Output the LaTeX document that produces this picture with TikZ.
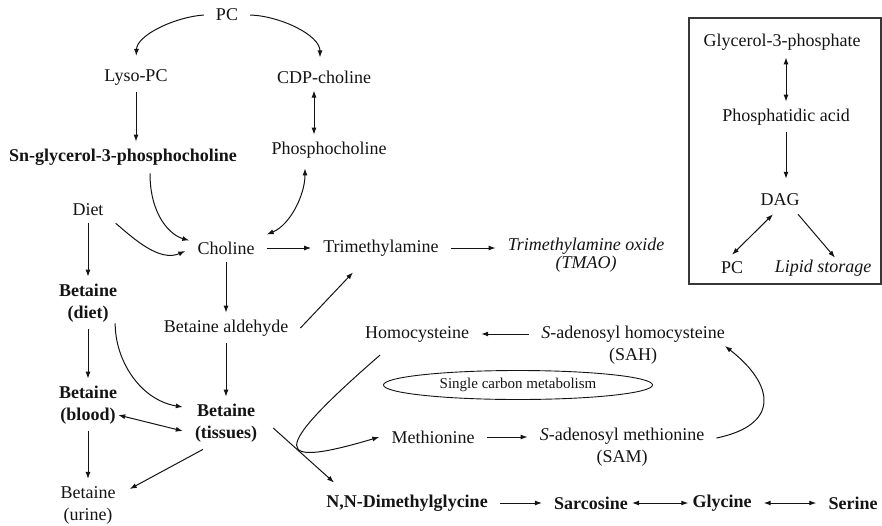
\documentclass[tikz,border=0pt]{standalone}
\usepackage{fontspec}
\setmainfont{Liberation Serif}
\usetikzlibrary{arrows.meta,shapes.geometric}
\definecolor{PwInk}{RGB}{20,20,20}
\definecolor{PwFrame}{RGB}{55,55,55}
\tikzset{
  pw/txt/.style={
    text=PwInk,
    align=center,
    inner xsep=12pt,
    inner ysep=7pt,
    font=\fontsize{18}{22}\selectfont
  },
  pw/bold/.style={pw/txt, font=\fontsize{18}{22}\selectfont\bfseries},
  pw/ital/.style={pw/txt, font=\fontsize{18}{22}\selectfont\itshape},
  pw/oval/.style={
    ellipse,
    draw=PwInk,
    line width=0.9pt,
    text=PwInk,
    inner sep=0pt,
    minimum width=269pt,
    minimum height=29pt,
    font=\fontsize{15}{18}\selectfont
  },
  pw/arrow/.style={-{Latex[length=7pt,width=5pt]}, line width=1pt, draw=PwInk},
  pw/dblarrow/.style={{Latex[length=7pt,width=5pt]}-{Latex[length=7pt,width=5pt]}, line width=1pt, draw=PwInk},
  pw/frame/.style={draw=PwFrame, line width=1.2pt}
}

\begin{document}
\begin{tikzpicture}[x=1pt,y=-1pt]
  \useasboundingbox (0,0) rectangle (882,525);
  \foreach \id/\txt/\x/\y in {
    pc/PC/227/15,lyso/Lyso-PC/136/77,cdp/CDP-choline/324/77,
    phos/Phosphocholine/329/150,diet/Diet/88/210,chol/Choline/226/248,
    tma/Trimethylamine/381/248,bald/Betaine aldehyde/226/328,
    burine/{Betaine\\(urine)}/88/505,homo/Homocysteine/417/334,
    meth/Methionine/433/437,
    sah/{\textit{S}-adenosyl homocysteine\\(SAH)}/633/345,
    sam/{\textit{S}-adenosyl methionine\\(SAM)}/622/447,
    g3p/Glycerol-3-phosphate/782/42,pa/Phosphatidic acid/786/117,
    dag/DAG/780/200,pcb/PC/732/268}
  {\node[pw/txt] (\id) at (\x,\y) {\txt};}
  \foreach \id/\txt/\x/\y in {
    sn/Sn-glycerol-3-phosphocholine/123/157,
    bdiet/{Betaine\\(diet)}/88/303,bblood/{Betaine\\(blood)}/88/405,
    btis/{Betaine\\(tissues)}/226/423,dmg/{N,N-Dimethylglycine}/407/503,
    sarc/Sarcosine/591/503,gly/Glycine/722/503,ser/Serine/853/503}
  {\node[pw/bold] (\id) at (\x,\y) {\txt};}
  \foreach \id/\txt/\x/\y in {
    tmao/{Trimethylamine oxide\\[-4pt](TMAO)}/586/255,lipid/Lipid storage/823/268}
  {\node[pw/ital] (\id) at (\x,\y) {\txt};}
  \node[pw/oval] (scm) at (518,385) {Single carbon metabolism};
  \draw[pw/frame] (689,18) rectangle (881,284);

  % choline side
  \draw[pw/arrow,shorten >=6pt] (pc.west) .. controls (175,17) and (137,35) .. (lyso.north);
  \draw[pw/arrow,shorten >=6pt] (pc.east) .. controls (280,16) and (320,35) .. ([xshift=-4pt]cdp.north);
  \draw[pw/arrow] (lyso.south) -- (lyso.south |- sn.north);
  \draw[pw/dblarrow] ([xshift=-10pt]cdp.south) -- ([xshift=-15pt]phos.north);
  \draw[pw/arrow] ([shift={(27,1)}]sn.south) .. controls (150,215) and (170,235) .. ([shift={(4,6)}]chol.north west);
  \draw[pw/arrow] (diet.south east) .. controls (135,240) and (160,262) .. ([shift={(0,3)}]chol.west);
  \draw[pw/dblarrow] (chol.north east) .. controls (290,225) and (305,195) .. ([shift={(-24,3)}]phos.south);
  \draw[pw/arrow] (chol) -- (tma);
  \draw[pw/arrow] (tma) -- (tma -| tmao.west);
  \draw[pw/arrow] (chol) -- (bald);
  \draw[pw/arrow] (bald) -- (btis);
  \draw[pw/arrow] (bald.east) -- ([shift={(-28,9)}]tma.south);

  % betaine
  \draw[pw/arrow] (diet) -- (bdiet);
  \draw[pw/arrow] (bdiet) -- (bblood);
  \draw[pw/arrow] (bblood) -- (burine);
  \draw[pw/arrow] ([shift={(-14,-6)}]bdiet.south east) .. controls (115,360) and (140,400) .. ([shift={(0,-16)}]btis.west);
  \draw[pw/dblarrow] ([shift={(-11,10)}]bblood.east) -- ([shift={(0,8)}]btis.west);
  \draw[pw/arrow] ([shift={(-23,0)}]btis.south) -- ([shift={(2,-16)}]burine.east);
  \draw[pw/arrow] ([shift={(4,5)}]btis.east) -- ([shift={(20,-5)}]dmg.north west);

  % methionine cycle
  \draw[pw/arrow] ([shift={(-37,6)}]homo.south) .. controls (265,455) and (275,468) .. (meth.west);
  \draw[pw/arrow] (sah.west |- homo.east) -- (homo.east);
  \draw[pw/arrow] (meth) -- (meth -| sam.west);
  \draw[pw/arrow] ([shift={(0,-9)}]sam.east) .. controls (780,425) and (775,385) .. ([shift={(-12,1)}]sah.east);

  \draw[pw/arrow] (dmg) -- (sarc);
  \draw[pw/dblarrow,shorten <=-8pt,shorten >=-8pt] (sarc) -- (gly);
  \draw[pw/dblarrow] (gly) -- (ser);

  % lipid box
  \draw[pw/dblarrow] (pa.north |- g3p.south) -- (pa.north);
  \draw[pw/arrow,shorten >=8pt] (pa.south) -- (pa.south |- dag.north);
  \draw[pw/dblarrow] ([shift={(-7,1)}]dag.south) -- (pcb.north);
  \draw[pw/arrow] ([shift={(18,1)}]dag.south) -- ([shift={(12,5)}]lipid.north);
\end{tikzpicture}
\end{document}
